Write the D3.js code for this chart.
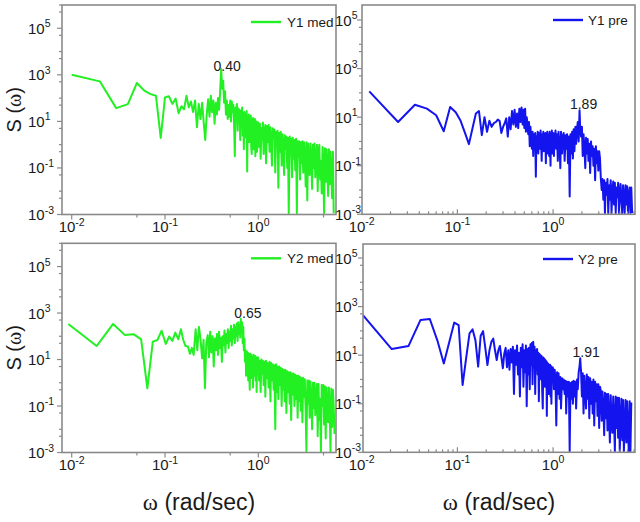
<!DOCTYPE html>
<html><head><meta charset="utf-8">
<script src="https://cdn.jsdelivr.net/npm/d3@7/dist/d3.min.js"></script>
<style>
html,body{margin:0;padding:0;background:#fff;}
svg{display:block;}
text{font-family:Arial,"Liberation Sans",Helvetica,sans-serif;fill:#1a1a1a;}
</style></head><body>
<svg id="chart" width="640" height="522"></svg>
<script>
// ---- data (omega in rad/sec, values are log10 S(omega)) ----
// shared frequency samples for the dense part of the spectra
const omegaMid = [0.50,0.51,0.52,0.53,0.54,0.55,0.56,0.57,0.58,0.59,0.60,0.61,0.62,0.63,0.64,0.65,0.66,0.67,0.68,0.69,0.70,0.71,0.72,0.73,0.74,0.75,0.76,0.77,0.78,0.79,0.80,0.81,0.82,0.83,0.84,0.85,0.86,0.87,0.88,0.89,0.90,0.91,0.92,0.93,0.94,0.95,0.96,0.97,0.98,0.99];
const omegaHi = [1.00,1.02,1.04,1.06,1.08,1.10,1.12,1.14,1.17,1.19,1.21,1.24,1.26,1.29,1.32,1.35,1.37,1.40,1.43,1.46,1.49,1.52,1.55,1.58,1.61,1.64,1.67,1.71,1.74,1.78,1.81,1.85,1.89,1.92,1.96,2.00,2.04,2.08,2.12,2.17,2.21,2.25,2.30,2.34,2.39,2.44,2.49,2.54,2.59,2.64,2.69,2.75,2.80,2.86,2.91,2.97,3.03,3.09,3.15,3.22,3.28,3.35,3.42,3.48,3.55,3.62,3.70,3.77,3.85,3.92,4.00,4.08,4.16,4.25,4.33,4.42,4.51,4.60,4.69,4.78,4.88,4.97,5.07,5.17,5.28,5.38,5.49,5.60,5.71,5.83,5.94,6.06,6.18,6.31,6.43,6.56,6.70];

// Y1 med
const y1medLow = [[0.010,3.00],[0.020,2.72],[0.030,1.57],[0.040,1.74],[0.050,2.65],[0.060,2.32],[0.070,2.17],[0.080,2.10],[0.090,0.29],[0.100,2.03],[0.110,2.08],[0.120,1.75],[0.130,1.98],[0.140,1.35],[0.150,1.65],[0.160,1.52],[0.170,2.10],[0.180,1.60],[0.190,1.85],[0.200,1.40],[0.210,1.90],[0.220,0.75],[0.230,1.75],[0.240,1.10],[0.250,1.80],[0.260,0.95],[0.270,0.20],[0.280,1.30],[0.290,1.95],[0.300,1.20],[0.310,2.10],[0.320,1.40],[0.330,1.90],[0.340,0.90],[0.350,1.80],[0.360,1.30],[0.370,2.00],[0.380,1.50],[0.390,2.30],[0.400,3.25],[0.410,2.40],[0.420,2.75],[0.430,1.80],[0.440,2.30],[0.450,1.30],[0.460,1.90],[0.470,1.10],[0.480,1.70],[0.490,1.20]];
const y1medMid = [1.90,1.00,1.85,1.40,1.70,0.90,-0.50,1.60,1.20,1.75,0.60,1.55,1.10,1.50,0.20,1.45,0.90,1.60,0.40,1.35,-0.20,1.40,0.80,1.30,0.30,1.45,-1.15,1.20,0.60,1.30,0.10,1.15,0.70,1.25,-0.10,-0.40,1.10,0.40,1.15,-0.20,1.05,0.50,1.10,-0.50,0.95,0.20,1.00,-0.30,0.90,0.30];
const y1medHi = [0.95,-0.10,0.90,-0.60,0.70, 0.20,0.95,-0.40,0.60,0.85, -0.80,0.80,0.10,0.85,-0.30, 0.75,0.20,-0.90,0.70,0.30, 0.65,-1.20,0.55,0.00,0.60, -1.85,0.50,-0.30,0.55,-0.90, 0.45,0.00,-1.30,0.40,-0.20, 0.35,-1.00,0.30,-2.95,0.35, -0.40,0.25,-1.40,0.30,-0.60, 0.20,-1.10,0.25,-2.95,0.15, -0.50,0.15,-1.50,0.10,-0.80, 0.15,-1.20,0.10,-0.40,-1.80, 0.10,-2.40,0.05,-0.70,-1.30, 0.05,-0.50,-1.90,0.00,-1.00, 0.05,-1.40,-0.60,0.00,-2.00, -0.30,0.00,-1.50,-0.70,-2.10, -0.10,-0.90,-2.95,-0.15,-1.60, -0.20,-0.80,-2.20,-0.20,-1.70, -0.30,-1.00,-2.30,-0.30,-2.95];

// Y1 pre
const y1preLow = [[0.012,2.06],[0.024,0.80],[0.036,1.51],[0.048,1.35],[0.060,1.08],[0.072,0.42],[0.084,1.42],[0.096,1.20],[0.108,0.85],[0.120,0.35],[0.132,-0.11],[0.144,0.55],[0.156,1.15],[0.168,1.25],[0.180,0.26],[0.192,1.00],[0.204,0.40],[0.216,0.85],[0.228,0.60],[0.240,0.75],[0.252,0.80],[0.264,0.90],[0.276,0.85],[0.288,0.35],[0.300,0.60],[0.312,0.75],[0.324,0.95],[0.336,0.20],[0.348,1.00],[0.360,0.50],[0.372,1.25],[0.384,0.70],[0.396,1.30],[0.408,0.60],[0.420,1.15],[0.432,0.55],[0.444,1.35],[0.456,0.80],[0.468,1.40],[0.480,0.70],[0.492,1.30]];
const y1preMid = [0.55,1.35,0.40,1.00,0.70,0.30,0.80,-0.20,0.60,0.10,-0.30,0.40,-0.60,0.30,-0.10,0.35,-1.45,0.20,-0.30,0.40,-0.50,0.35,0.00,-0.30,0.45,-0.10,-0.80,0.30,-0.20,0.40,-0.40,0.20,-0.10,0.35,-0.90,0.30,-0.20,0.40,-0.50,0.30,0.00,-0.60,0.40,-0.10,-1.00,0.35,-0.30,0.45,-0.50,0.20];
const y1preHi = [0.35,-0.60,0.20,0.45,-0.30, 0.30,-0.80,0.40,-0.20,-1.10, 0.40,-0.50,0.20,0.35,-0.80, 0.25,-0.30,0.30,-0.90,0.20, -2.27,0.30,-0.50,0.40,-0.70, 0.50,-0.40,0.60,-0.10,0.55, 0.80,0.00,1.28,0.50,0.20, 0.60,-0.60,0.30,-0.20,-1.10, 0.15,-0.50,0.10,-0.80,-0.10, -1.30,0.00,-0.60,-0.20,-1.00, -0.30,-1.60,-0.20,-0.90,-0.40, -1.20,-0.40,-0.70,-1.50,-2.00, -1.55,-2.40,-1.60,-2.95,-1.70, -2.20,-1.55,-2.95,-1.80,-2.40, -1.60,-2.95,-2.00,-1.65,-2.60, -1.70,-2.95,-1.90,-2.30,-1.70, -2.95,-2.10,-1.75,-2.50,-2.95, -1.80,-2.30,-2.95,-1.80,-2.60, -1.85,-2.95,-2.20,-1.90,-2.95, -1.90,-2.95];

// Y2 med
const y2medLow = [[0.0092,2.53],[0.0185,1.58],[0.0278,2.53],[0.037,2.06],[0.046,2.09],[0.0555,1.87],[0.0647,-0.24],[0.074,1.77],[0.083,1.84],[0.092,2.24],[0.102,1.67],[0.111,1.99],[0.120,1.80],[0.129,2.16],[0.139,1.87],[0.148,2.30],[0.157,1.84],[0.166,1.58],[0.176,1.56],[0.185,1.25],[0.194,1.50],[0.203,1.20],[0.213,2.30],[0.222,1.40],[0.231,2.40],[0.240,1.90],[0.250,1.05],[0.259,1.85],[0.268,-0.24],[0.277,1.70],[0.287,2.05],[0.296,1.10],[0.305,2.20],[0.314,1.30],[0.324,2.00],[0.333,0.70],[0.342,1.90],[0.351,1.40],[0.360,2.10],[0.370,1.20],[0.379,2.20],[0.388,1.50],[0.397,1.95],[0.407,0.90],[0.416,2.00],[0.425,1.60],[0.434,2.25],[0.444,1.30],[0.453,2.10],[0.462,1.70],[0.472,2.30],[0.481,1.50],[0.490,2.20]];
const y2medMid = [1.80,2.45,1.60,2.30,1.90,2.50,1.70,2.40,2.00,2.55,1.80,2.60,2.10,2.50,1.95,2.75,2.20,2.60,1.70,2.40,1.40,1.90,0.90,1.40,0.30,1.35,0.60,1.30,0.10,1.25,0.50,-0.30,1.25,0.40,1.20,0.20,1.15,0.60,-0.20,1.20,0.30,1.10,0.50,1.15,0.10,1.10,-0.40,1.05,0.40,1.10];
const y2medHi = [1.05,0.10,0.95,-0.40,1.00, 0.40,0.95,-0.10,0.90,-0.60, 0.95,0.20,0.85,-0.20,0.90, -0.80,0.85,0.10,0.80,-0.30, 0.75,-2.00,0.80,-0.40,0.70, -0.70,0.70,-0.10,0.65,-1.00, 0.60,-0.30,0.55,-0.80,0.55, -1.30,0.50,-0.40,0.45,-0.90, 0.45,-1.60,0.40,-0.50,0.40, -1.00,0.35,-0.70,0.30,-1.50, 0.30,-0.80,0.25,-1.20,0.20, -1.70,0.20,-0.60,0.15,-1.30, -2.95,0.10,-0.90,0.10,-1.50, 0.05,-0.70,-2.00,0.00,-1.10, 0.00,-1.40,-0.50,-0.05,-2.30, -0.05,-1.60,-0.70,-2.95,-0.10, -1.00,-0.10,-1.80,-0.15,-2.40, -0.20,-0.90,-1.70,-0.20,-1.20, -2.95,-0.25,-1.90,-0.30,-1.00, -2.20];

// Y2 pre
const y2preLow = [[0.0103,2.65],[0.0206,1.25],[0.0309,1.38],[0.0412,2.45],[0.0515,2.49],[0.0618,1.60],[0.0721,0.66],[0.0824,1.55],[0.0927,2.34],[0.103,2.24],[0.1133,-0.23],[0.1236,0.90],[0.1339,1.90],[0.1442,2.06],[0.1545,1.60],[0.1648,0.53],[0.1751,1.80],[0.1854,1.99],[0.1957,1.30],[0.206,0.59],[0.2163,1.20],[0.2266,1.55],[0.2369,1.68],[0.2472,1.20],[0.2575,0.80],[0.2678,1.20],[0.2781,1.38],[0.2884,0.90],[0.2987,0.46],[0.309,1.07],[0.3193,1.30],[0.3296,0.50],[0.340,1.20],[0.350,0.40],[0.360,1.25],[0.370,0.70],[0.380,1.35],[0.390,-0.60],[0.400,1.20],[0.410,0.60],[0.420,1.40],[0.430,0.20],[0.440,1.10],[0.450,-0.70],[0.460,1.30],[0.470,0.50],[0.480,1.45],[0.490,-0.30]];
const y2preMid = [1.20,0.30,1.40,-1.10,1.25,0.20,1.30,-0.40,1.45,0.60,1.50,-0.20,1.55,0.50,1.35,-0.60,1.20,0.40,1.25,0.20,1.10,-0.90,1.05,0.30,1.00,0.00,0.95,-0.50,-1.20,0.90,0.20,0.85,-0.30,0.80,0.10,0.75,-1.50,0.70,0.00,0.65,-0.60,0.60,-0.20,0.60,-0.70,0.55,-1.00,0.50,0.00,0.50];
const y2preHi = [0.45,-0.40,0.40,-0.10,-1.90, 0.30,-0.60,0.25,-0.80,0.10, -1.20,0.05,-0.40,0.00,-0.60, -0.05,-1.40,-0.10,-0.70,-0.10, -2.95,-0.15,-0.80,-0.10,-1.00, -0.05,-0.70,-0.10,-1.20,0.00, -0.40,0.30,0.55,0.87,0.30, -0.70,0.25,-1.40,0.15,-0.60, -1.20,0.20,-0.80,0.10,-1.60, 0.05,-1.00,-0.10,-1.40,0.00, -1.90,-0.10,-0.90,-0.20,-1.50, -0.20,-2.00,-0.30,-0.45,-1.70, -0.50,-1.20,-2.30,-0.55,-1.60, -0.60,-2.10,-0.60,-1.50,-2.60, -0.65,-1.80,-2.20,-0.70,-1.60, -2.95,-0.70,-2.00,-0.75,-2.40, -0.75,-2.95,-1.80,-0.80,-2.50, -0.85,-2.95,-1.90,-0.85,-2.60, -0.90,-2.20,-2.95,-0.90,-2.95, -0.95];

const seriesNames = ["Y1 med", "Y1 pre", "Y2 med", "Y2 pre"];
const peakOmega = [0.40, 1.89, 0.65, 1.92];
const peakLabels = ["0.40", "1.89", "0.65", "1.91"];
const xTickExps = [-2, -1, 0];
const yLabelExps = [-3, -1, 1, 3, 5];
const xTitle = ["\u03c9", " (rad/sec)"];
const yTitle = ["S (", "\u03c9", ")"];

// join the pieces of one series: low-frequency pairs + shared grids zipped with values
function joinSeries(low, mid, hi) {
  return low.concat(mid.map((v, i) => [omegaMid[i], v]), hi.map((v, i) => [omegaHi[i], v]));
}
const series = [
  joinSeries(y1medLow, y1medMid, y1medHi),
  joinSeries(y1preLow, y1preMid, y1preHi),
  joinSeries(y2medLow, y2medMid, y2medHi),
  joinSeries(y2preLow, y2preMid, y2preHi)
];

const GREEN = "#22f022", BLUE = "#1414ee", FRAME = "#8a8a8a";

const layout = [
  {color: GREEN, frame: [62, 5, 336, 214.5], xRef: [71.7, 258.3], yDom: [1e-3, 1e6], yRng: [214.5, 5], style: "left", labelX: 28, leg: [251, 281, 22, 287, 26.5], pk: [6, 2]},
  {color: BLUE, frame: [362, 5, 635, 214.3], xRef: [361.7, 553.1], yDom: [1e-3, 1e5], yRng: [214.3, 20], style: "right", labelX: 335, leg: [553, 583, 20, 588, 24.5], pk: [4, -1]},
  {color: GREEN, frame: [62, 243.3, 336, 452.5], xRef: [71.7, 258.3], yDom: [1e-3, 1e6], yRng: [452.5, 243.3], style: "left", labelX: 28, leg: [251, 281, 258.3, 287, 263], pk: [7, -1]},
  {color: BLUE, frame: [363, 244, 635, 452.3], xRef: [361.7, 553.1], yDom: [1e-3, 1e5], yRng: [452.3, 258], style: "right", labelX: 335, leg: [543, 573, 259, 578, 263.5], pk: [6, -1]}
];

const svg = d3.select("#chart");

function powLabel(g, x, y, exp, anchor) {
  const t = g.append("text").attr("x", x).attr("y", y).attr("text-anchor", anchor).attr("font-size", 15);
  t.append("tspan").text("10");
  t.append("tspan").attr("dy", -6.5).attr("font-size", 10.5).text(exp);
}

layout.forEach((p, i) => {
  const data = series[i];
  const [L, T, R, B] = p.frame;
  const xr = d3.scaleLog().domain([0.01, 1]).range(p.xRef);
  const x = d3.scaleLog().domain([xr.invert(L), xr.invert(R)]).range([L, R]);
  const yr = d3.scaleLog().domain(p.yDom).range(p.yRng);
  const y = d3.scaleLog().domain([yr.invert(B), yr.invert(T)]).range([B, T]);
  const g = svg.append("g");

  const cid = "clip" + i;
  svg.append("clipPath").attr("id", cid).append("rect")
    .attr("x", L).attr("y", T).attr("width", R - L).attr("height", B - T);

  const line = d3.line().x(d => x(d[0])).y(d => y(Math.pow(10, d[1])));
  g.append("path").datum(data).attr("clip-path", `url(#${cid})`)
    .attr("d", line).attr("fill", "none").attr("stroke", p.color)
    .attr("stroke-width", 2).attr("stroke-linejoin", "round");

  g.append("rect").attr("x", L).attr("y", T).attr("width", R - L).attr("height", B - T)
    .attr("fill", "none").attr("stroke", FRAME).attr("stroke-width", 1.6);

  // x ticks
  const [xd0, xd1] = x.domain();
  const mults = p.style === "left" ? [1, 5] : [1, 2, 3, 4, 5, 6, 7, 8, 9];
  for (let k = -3; k <= 1; k++) {
    mults.forEach(m => {
      const v = m * Math.pow(10, k);
      if (v < xd0 || v > xd1) return;
      const px = x(v);
      const len = m === 1 ? 5 : 3;
      const dir = p.style === "left" ? 1 : -1;
      g.append("line").attr("x1", px).attr("x2", px).attr("y1", B).attr("y2", B + dir * len)
        .attr("stroke", FRAME).attr("stroke-width", 1.2);
    });
  }
  xTickExps.forEach(e => powLabel(g, x(Math.pow(10, e)), B + 17.5, String(e), "middle"));

  // y ticks
  const [yd0, yd1] = y.domain();
  for (let k = -3; k <= 6; k++) {
    [1, 5].forEach(m => {
      const v = m * Math.pow(10, k);
      if (v < yd0 * 0.999 || v > yd1 * 1.001) return;
      const py = y(v);
      const len = (m === 1 && k % 2 !== 0) ? 5 : 3;
      g.append("line").attr("x1", L).attr("x2", L - len).attr("y1", py).attr("y2", py)
        .attr("stroke", FRAME).attr("stroke-width", 1.2);
    });
  }
  yLabelExps.forEach(e => powLabel(g, p.labelX, y(Math.pow(10, e)) + 5.5, String(e), "start"));

  // legend
  const [lx1, lx2, ly, tx, ty] = p.leg;
  g.append("line").attr("x1", lx1).attr("x2", lx2).attr("y1", ly).attr("y2", ly)
    .attr("stroke", p.color).attr("stroke-width", 2.4);
  g.append("text").attr("x", tx).attr("y", ty).attr("font-size", 13.5).text(seriesNames[i]);

  // peak annotation
  const pt = data.reduce((a, b) => Math.abs(b[0] - peakOmega[i]) < Math.abs(a[0] - peakOmega[i]) ? b : a);
  g.append("text").attr("x", x(pt[0]) + p.pk[0]).attr("y", y(Math.pow(10, pt[1])) + p.pk[1])
    .attr("text-anchor", "middle").attr("font-size", 14).text(peakLabels[i]);

  // axis titles
  if (p.style === "left") {
    const t = svg.append("text").attr("transform", `translate(21,${(T + B) / 2}) rotate(-90)`)
      .attr("text-anchor", "middle").attr("font-size", 20);
    t.append("tspan").text(yTitle[0]);
    t.append("tspan").attr("font-family", "'Liberation Serif','DejaVu Serif',serif").text(yTitle[1]);
    t.append("tspan").text(yTitle[2]);
  }
  if (i >= 2) {
    const t = svg.append("text").attr("x", (L + R) / 2).attr("y", 510)
      .attr("text-anchor", "middle").attr("font-size", 23);
    t.append("tspan").attr("font-family", "'Liberation Serif','DejaVu Serif',serif").text(xTitle[0]);
    t.append("tspan").text(xTitle[1]);
  }
});
</script>
</body></html>
